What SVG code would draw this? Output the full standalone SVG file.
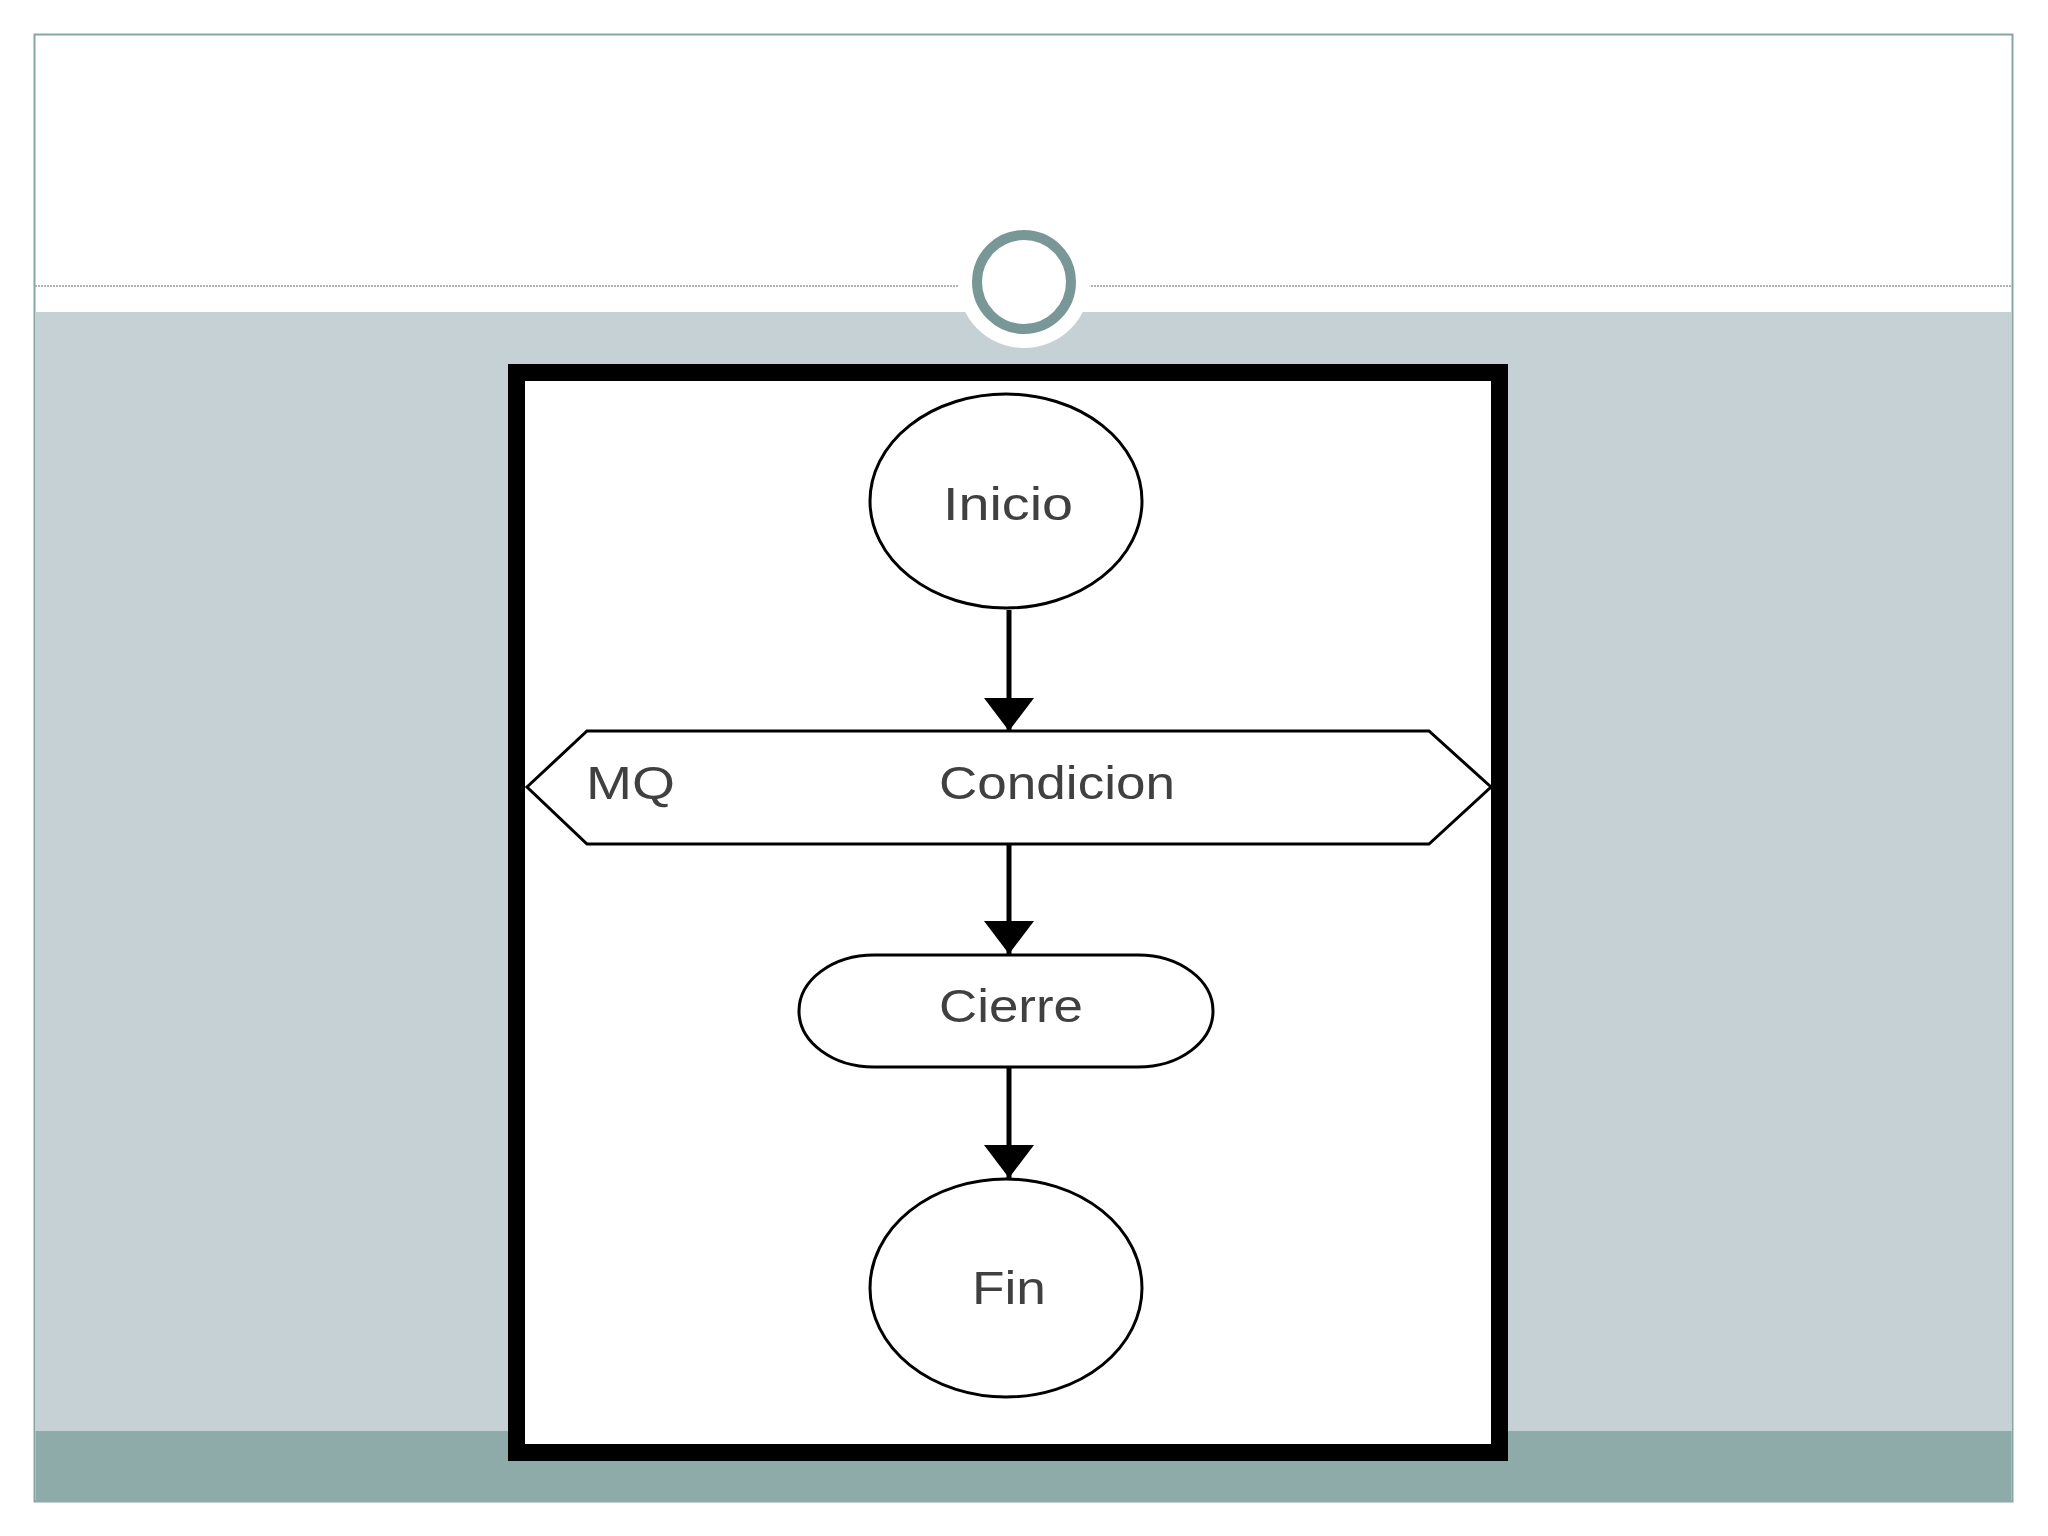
<svg xmlns="http://www.w3.org/2000/svg" width="2048" height="1536" viewBox="0 0 2048 1536">
  <style>
    .shape { fill: #ffffff; stroke: #000000; stroke-width: 3; }
    .lbl { font-family: "Liberation Sans", Arial, sans-serif; font-size: 46px; fill: #404040; }
    .conn { stroke: #000000; stroke-width: 5; fill: none; marker-end: url(#arrow); }
  </style>
  <defs>
    <marker id="arrow" markerUnits="userSpaceOnUse" viewBox="0 0 33 50" refX="33" refY="25" markerWidth="33" markerHeight="50" orient="auto">
      <path d="M0,0 L33,25 L0,50 Z" fill="#000000"/>
    </marker>
  </defs>

  <!-- slide background -->
  <g id="slide">
    <rect x="0" y="0" width="2048" height="1536" fill="#ffffff"/>
    <rect x="34.5" y="34.5" width="1978" height="1467" fill="#ffffff" stroke="#88a5a5" stroke-width="2"/>
    <rect x="35.5" y="312" width="1976" height="1119" fill="#c5d1d5"/>
    <rect x="35.5" y="1431" width="1976" height="71" fill="#8eaba9"/>
    <line x1="35" y1="286" x2="2012" y2="286" stroke="#9a9a9a" stroke-width="1.5" stroke-dasharray="2,1"/>
    <circle cx="1024" cy="282" r="66" fill="#ffffff"/>
    <circle cx="1024" cy="282" r="47" fill="#ffffff" stroke="#7a9797" stroke-width="10"/>
  </g>

  <!-- diagram frame -->
  <g id="frame">
    <rect x="516.5" y="372.5" width="983" height="1080" fill="#ffffff" stroke="#000000" stroke-width="17"/>
  </g>

  <!-- connectors -->
  <g id="connectors">
    <line class="conn" x1="1009" y1="610" x2="1009" y2="731"/>
    <line class="conn" x1="1009" y1="844" x2="1009" y2="954"/>
    <line class="conn" x1="1009" y1="1067" x2="1009" y2="1178"/>
  </g>

  <!-- nodes -->
  <g id="inicio">
    <ellipse class="shape" cx="1006" cy="501" rx="136" ry="107"/>
    <text class="lbl" x="1008" y="520" text-anchor="middle" textLength="130" lengthAdjust="spacingAndGlyphs">Inicio</text>
  </g>

  <g id="condicion">
    <polygon class="shape" points="527,787 587,731 1429,731 1491,787 1429,844 587,844"/>
    <text class="lbl" x="586" y="799" textLength="89" lengthAdjust="spacingAndGlyphs">MQ</text>
    <text class="lbl" x="939" y="799" textLength="236" lengthAdjust="spacingAndGlyphs">Condicion</text>
  </g>

  <g id="cierre">
    <rect class="shape" x="799" y="955" width="414" height="112" rx="75" ry="56"/>
    <text class="lbl" x="939" y="1022" textLength="144" lengthAdjust="spacingAndGlyphs">Cierre</text>
  </g>

  <g id="fin">
    <ellipse class="shape" cx="1006" cy="1288" rx="136" ry="109"/>
    <text class="lbl" x="972" y="1304" textLength="74" lengthAdjust="spacingAndGlyphs">Fin</text>
  </g>
</svg>
